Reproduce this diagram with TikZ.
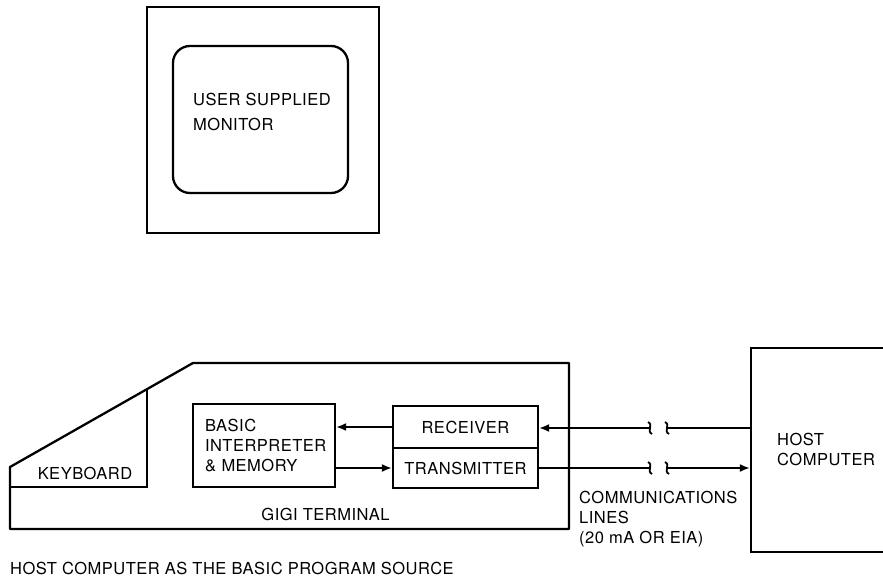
\documentclass[tikz,border=0pt]{standalone}
\usepackage{fontspec}
\setmainfont[LetterSpace=3]{TeX Gyre Heros}
\usetikzlibrary{arrows.meta}

\tikzset{
  box/.style={draw, line width=2.3pt, inner sep=0pt},
  sig/.style={line width=1.8pt},
  tip/.style={-{Latex[length=10pt,width=8pt]}},
  lbl/.style={inner sep=0pt, align=left, font=\fontsize{16.5}{20}\selectfont},
}

\begin{document}
\begin{tikzpicture}[x=1pt, y=-1pt]
\useasboundingbox (0,0) rectangle (883,580);

% Monitor
\node[box, minimum width=232pt, minimum height=226pt] (monitor) at (263,120) {};
\node[box, rounded corners=17pt, minimum width=175pt, minimum height=147pt] (screen) at (260.5,119.5) {};
\node[lbl, anchor=west, font=\fontsize{16.5}{24.5}\selectfont] (montxt) at (193,112) {USER SUPPLIED\\MONITOR};

% Terminal outline and keyboard
\draw[line width=2.3pt, line join=round] (10,529) -- (10,467) -- (193,363) -- (569,363) -- (569,529) -- cycle;
\draw[line width=2.3pt] (147,389) -- (147,487) -- (10,487);
\node[lbl] (kbd) at (85,473) {KEYBOARD};
\node[lbl] (gigi) at (325.5,514) {GIGI TERMINAL};

% Boxes inside the terminal
\node[box, lbl, minimum width=142pt, minimum height=83pt, text width=118pt] (basic) at (264,445.5)
  {BASIC\\INTERPRETER\\\& MEMORY};
\node[box, lbl, minimum width=145pt, minimum height=42pt] (receiver) at (465.5,427) {RECEIVER};
\node[box, lbl, minimum width=145pt, minimum height=40pt] (transmitter) at (465.5,468) {TRANSMITTER};

\draw[sig, tip] (receiver.west) -- (basic.east |- receiver.west);
\draw[sig, tip] (basic.east |- transmitter.west) -- (transmitter.west);

% Host computer
\node[box, minimum width=160pt, minimum height=204pt] (host) at (831,450) {};
\node[lbl, anchor=west] (hosttxt) at (777,449.5) {HOST\\COMPUTER};

% Communications lines
\coordinate (rxcutL) at (650,428);
\coordinate (rxcutR) at (667,428);
\coordinate (txcutL) at (650,468);
\coordinate (txcutR) at (667,468);
\draw[sig] (host.west |- rxcutR) -- (rxcutR);
\draw[sig, tip] (rxcutL) -- (receiver.east |- rxcutL);
\draw[sig] (transmitter.east) -- (txcutL);
\draw[sig, tip] (txcutR) -- (host.west |- txcutR);
\foreach \x/\y in {650/428, 667/428, 650/468, 667/468}
  \draw[sig] (\x-2,\y-6) .. controls (\x+4,\y-3) and (\x-4,\y+3) .. (\x+2,\y+6);

\node[lbl, anchor=west] (comm) at (579,519) {COMMUNICATIONS\\LINES\\(20 mA OR EIA)};

% Caption
\node[lbl, anchor=west] (caption) at (10,568) {HOST COMPUTER AS THE BASIC PROGRAM SOURCE};
\end{tikzpicture}
\end{document}
